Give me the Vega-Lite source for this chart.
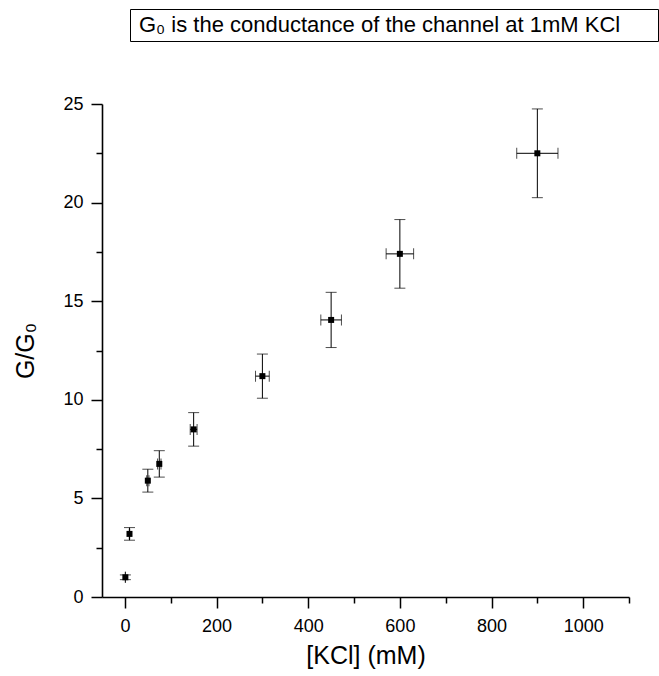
{
  "$schema": "https://vega.github.io/schema/vega-lite/v6.json",
  "width": 527,
  "height": 493,
  "autosize": "none",
  "padding": {"left": 102, "top": 104, "right": 30, "bottom": 79},
  "background": "white",
  "config": {
    "view": {"stroke": null},
    "font": "Liberation Sans",
    "axis": {
      "domainColor": "black",
      "domainWidth": 1.6,
      "tickColor": "black",
      "tickWidth": 1.5,
      "labelColor": "black",
      "labelFont": "Liberation Sans",
      "labelFontSize": 18,
      "titleFont": "Liberation Sans",
      "titleFontSize": 25,
      "titleFontWeight": "normal",
      "titleColor": "black",
      "grid": false
    }
  },
  "data": {
    "values": [
      {"kcl": 1, "kerr": 0.05, "g": 1.0, "gerr": 0.12, "note": "G₀ is the conductance of the channel at 1mM KCl"},
      {"kcl": 10, "kerr": 0.5, "g": 3.2, "gerr": 0.32, "note": "G₀ is the conductance of the channel at 1mM KCl"},
      {"kcl": 50, "kerr": 2.5, "g": 5.9, "gerr": 0.58, "note": "G₀ is the conductance of the channel at 1mM KCl"},
      {"kcl": 75, "kerr": 3.75, "g": 6.75, "gerr": 0.67, "note": "G₀ is the conductance of the channel at 1mM KCl"},
      {"kcl": 150, "kerr": 7.5, "g": 8.5, "gerr": 0.85, "note": "G₀ is the conductance of the channel at 1mM KCl"},
      {"kcl": 300, "kerr": 15, "g": 11.2, "gerr": 1.12, "note": "G₀ is the conductance of the channel at 1mM KCl"},
      {"kcl": 450, "kerr": 22.5, "g": 14.05, "gerr": 1.4, "note": "G₀ is the conductance of the channel at 1mM KCl"},
      {"kcl": 600, "kerr": 30, "g": 17.4, "gerr": 1.74, "note": "G₀ is the conductance of the channel at 1mM KCl"},
      {"kcl": 900, "kerr": 45, "g": 22.5, "gerr": 2.25, "note": "G₀ is the conductance of the channel at 1mM KCl"}
    ]
  },
  "encoding": {
    "x": {
      "field": "kcl",
      "type": "quantitative",
      "scale": {"domain": [-50, 1100], "nice": false, "zero": false},
      "axis": {
        "title": "[KCl] (mM)",
        "values": [0, 100, 200, 300, 400, 500, 600, 700, 800, 900, 1000, 1100],
        "format": "d",
        "labelExpr": "datum.value % 200 === 0 && datum.value <= 1000 ? datum.label : ''",
        "tickSize": {"condition": {"test": "datum.value % 200 === 0 && datum.value <= 1000", "value": 11}, "value": 6},
        "labelPadding": 9,
        "titlePadding": 8
      }
    },
    "y": {
      "field": "g",
      "type": "quantitative",
      "scale": {"domain": [0, 25], "nice": false},
      "axis": {
        "title": "G/G₀",
        "values": [0, 2.5, 5, 7.5, 10, 12.5, 15, 17.5, 20, 22.5, 25],
        "format": "d",
        "labelExpr": "datum.value % 5 === 0 ? datum.label : ''",
        "tickSize": {"condition": {"test": "datum.value % 5 === 0", "value": 11}, "value": 6},
        "labelPadding": 8,
        "titlePadding": 24
      }
    }
  },
  "layer": [
    {
      "mark": {"type": "errorbar", "color": "black", "ticks": {"size": 11, "thickness": 1}, "rule": {"strokeWidth": 1}},
      "encoding": {"yError": {"field": "gerr"}}
    },
    {
      "mark": {"type": "errorbar", "color": "black", "ticks": {"size": 11, "thickness": 1}, "rule": {"strokeWidth": 1}},
      "encoding": {"xError": {"field": "kerr"}}
    },
    {
      "mark": {"type": "point", "shape": "square", "filled": true, "size": 36, "color": "black", "opacity": 1},
      "encoding": {
        "shape": {
          "field": "note",
          "type": "nominal",
          "scale": {"range": ["square"]},
          "legend": {
            "orient": "none",
            "legendX": 28,
            "legendY": -95,
            "title": ".",
            "titleOrient": "right",
            "titleOpacity": 0,
            "titlePadding": 30,
            "titleFontSize": 10,
            "strokeColor": "black",
            "fillColor": "white",
            "padding": 5,
            "labelFont": "Liberation Sans",
            "labelFontSize": 22,
            "labelColor": "black",
            "labelLimit": 1000,
            "labelOffset": -18,
            "symbolSize": 0,
            "symbolOpacity": 0,
            "symbolStrokeWidth": 0
          }
        }
      }
    }
  ]
}
